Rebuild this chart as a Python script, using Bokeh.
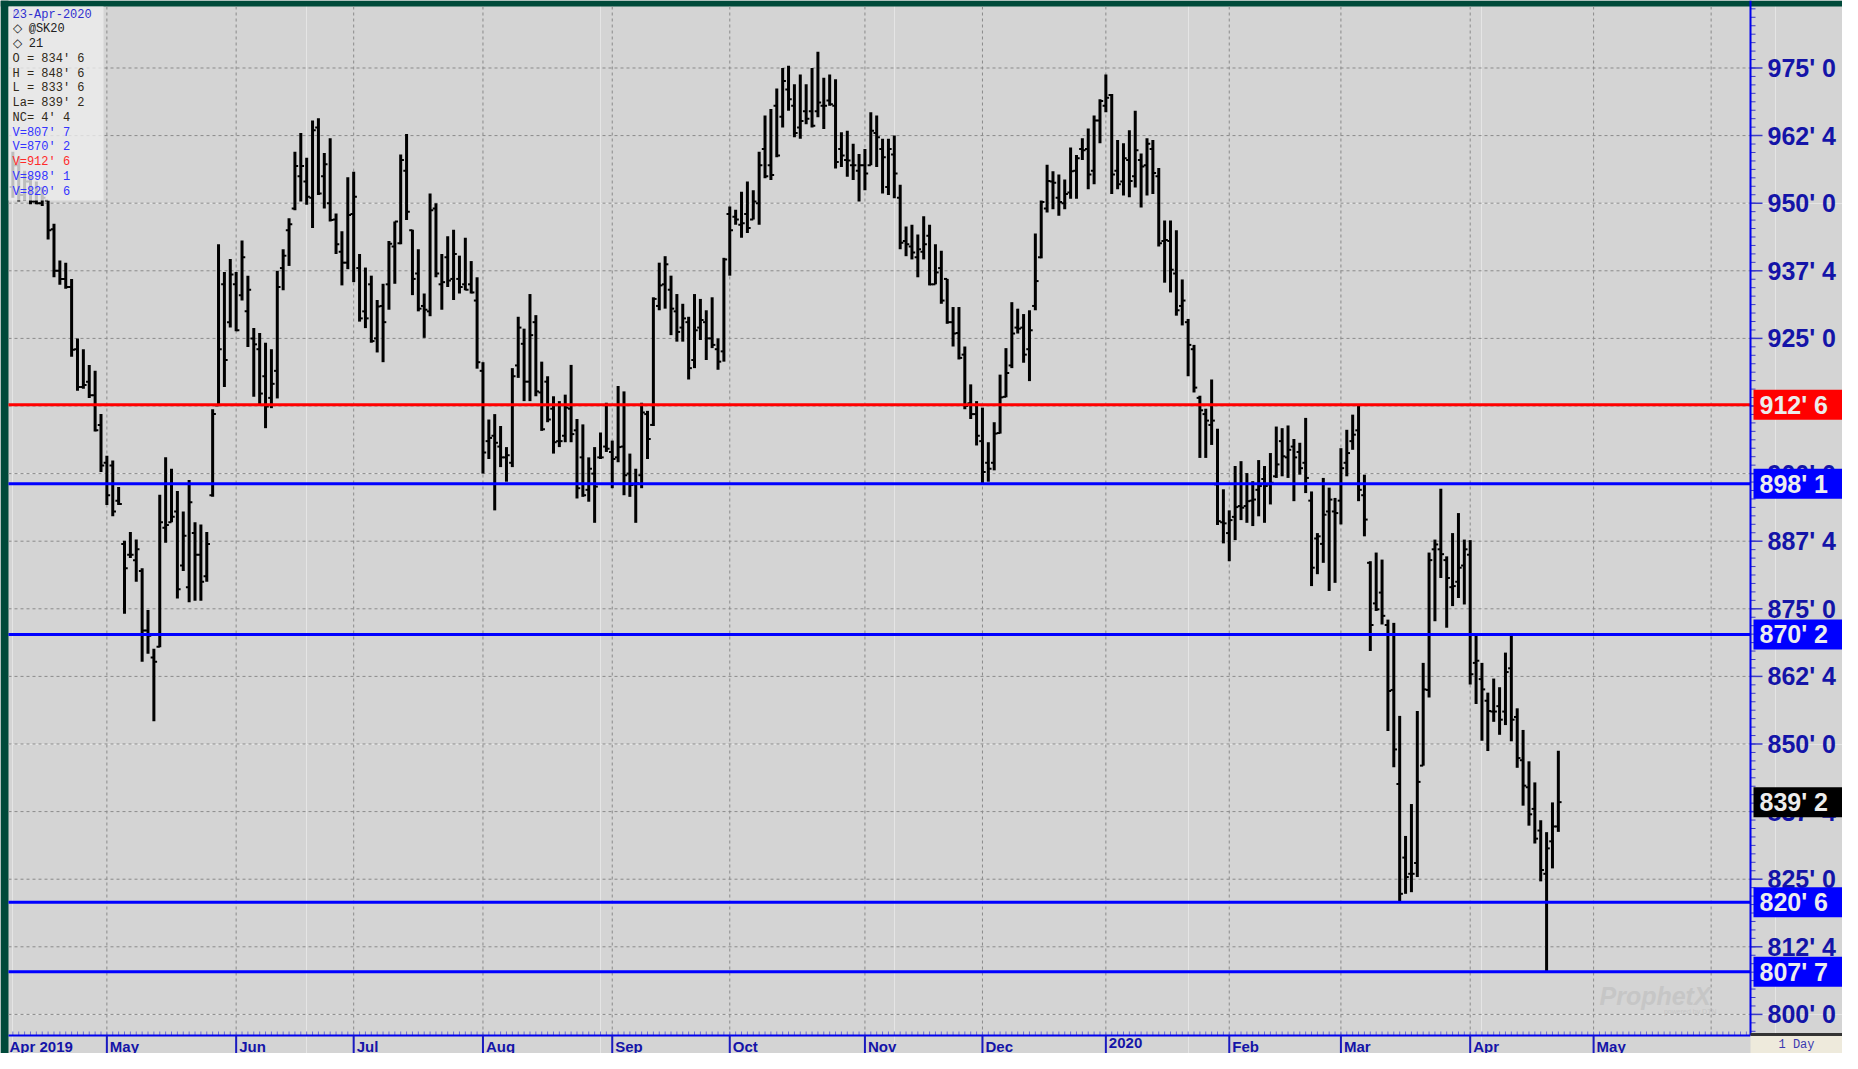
import pandas as pd
from bokeh.plotting import figure
from bokeh.models import ColumnDataSource, Range1d, Label, BoxAnnotation
from bokeh.core.properties import value
from bokeh.embed import file_html
from bokeh.resources import INLINE

# ---------------- data ----------------
first_day = "2019-04-08"
calendar_end = "2020-06-30"
holidays = ["2019-04-19", "2019-05-27", "2019-07-04", "2019-09-02", "2019-11-28",
            "2019-12-25", "2020-01-01", "2020-01-20", "2020-02-17", "2020-04-10", "2020-05-25"]

opens = [953, 957, 951.5, 954, 950.3, 950, 950.5, 945.2, 937.5, 936, 934.5, 923, 916, 917, 914.5, 909,
         902, 901.5, 895, 887, 885, 884, 882, 871, 866, 868, 890, 891, 893, 883, 879, 889, 885, 881, 896, 912.6,
         935, 928, 935, 933, 930, 925, 923, 918, 914, 919, 938, 945, 949, 955, 954, 951, 964, 955, 950, 947,
         941, 939, 948, 938, 930, 935, 925, 931, 935, 942, 942.6, 956, 945, 937, 931, 930, 949, 935, 940, 936,
         936, 935, 935, 932, 919, 906, 907, 905, 903, 902, 920, 924, 917, 928, 915, 917, 912, 906, 907, 912,
         908, 903, 897, 900, 903, 905, 904, 903, 905, 900, 898, 899.7, 911, 909, 931, 935, 934, 930, 927, 928,
         921, 927, 928, 925, 923, 922.6, 948, 947.5, 946, 948, 947, 950, 960, 957, 968, 966, 971, 968, 964, 967,
         967, 967, 968, 969, 968, 960, 958, 957, 956, 957, 957, 963, 960, 953, 959, 951, 943, 942, 940, 941,
         944, 935, 938, 936, 928, 926, 922, 913, 911, 906, 902, 902, 907.5, 914.2, 920, 927, 927, 923, 931, 940,
         949, 954, 951, 950, 952, 956, 960, 960, 956, 965.3, 968, 970, 956, 954, 958, 955, 958, 957, 960, 955,
         943, 943, 937, 931, 928, 923, 914, 911, 909, 898, 891, 889, 892, 894, 894, 895, 897, 899, 898, 899.5,
         906, 903, 905, 904, 902, 895, 888, 887, 893, 893, 895, 902, 906, 908, 896, 883.5, 876, 878, 872, 860,
         842.6, 829, 826, 828, 846, 860, 886, 886, 884, 879, 880, 883, 885, 865, 862, 858, 856, 857, 856, 864,
         855, 847, 842, 838, 834, 826, 832, 834.75]
highs = [959.5, 958.6, 956, 955, 954, 953, 950.5, 946.2, 939.4, 939, 936, 925, 923, 920.1, 919, 911,
         903.3, 902.4, 897.5, 887.6, 889.2, 887.8, 882.5, 874.8, 867.6, 896.1, 903, 900.9, 896.8, 893, 898.8, 891, 890.6, 889.2, 911.9, 942.4,
         937.3, 939.7, 937.3, 943.1, 936.6, 926.9, 926, 924.2, 923, 937.5, 941.5, 947.2, 959.5, 963, 958.4, 965.3, 965.7, 959.3, 962, 948.1,
         944.8, 954.8, 955.8, 940.6, 938.1, 936.6, 932.1, 935.1, 943, 946.6, 959, 962.8, 945.1, 941.5, 933.3, 951.8, 950, 940.6, 943.9, 945.1,
         940.3, 943.6, 939.3, 936.3, 920.6, 910, 911, 908.8, 904.9, 919.5, 929, 926.8, 933.2, 929.3, 920.7, 918, 914.3, 913.4, 914.6, 920.1,
         910.1, 909.1, 903, 904.9, 907.6, 913.1, 906.1, 916.2, 915.2, 903.7, 900.9, 913.1, 911.6, 932.6, 939, 940.2, 936.6, 933.2, 931.4, 929,
         933.2, 932.3, 930.2, 932.6, 925, 939.9, 949.4, 948.8, 952.1, 954, 952.4, 959.5, 966.2, 967.4, 971.2, 975, 975.4, 972, 973.8, 972,
         975, 978, 973.2, 973.8, 972.9, 963.1, 963.4, 961, 959.1, 960, 966.8, 966.2, 961.9, 961.9, 962.5, 953.4, 945.7, 946, 944.2, 947.6,
         946, 942.4, 941.2, 936, 930.8, 930.8, 923.5, 916.5, 913.4, 912.2, 905.8, 909.5, 918.3, 923.2, 931.7, 930.5, 929.5, 930.2, 944.4, 950.5,
         957.1, 955.9, 955.3, 954.4, 960.3, 958.9, 962, 963.8, 966.2, 969.2, 973.8, 970.2, 961.7, 961.1, 963.5, 967.1, 959.2, 962, 961.7, 956.5,
         946.8, 946.8, 945, 935.9, 928.6, 923.8, 914.4, 912, 917.4, 908.3, 897.1, 893.2, 901.4, 902.3, 900.1, 898.6, 902.5, 901.4, 903.8, 908.7,
         908.4, 908.9, 906.4, 905.7, 910.3, 896.7, 889, 899.2, 897.4, 895.5, 904.7, 908.1, 910.9, 912.75, 899.8, 883.8, 885.4, 884.1, 873, 872.4,
         855.2, 833, 838.9, 856.1, 865, 885.4, 887.8, 897.2, 884.7, 889, 892.7, 887.8, 887.7, 870.3, 865, 859.5, 862.1, 860.5, 866.9, 870.25,
         856.6, 852.6, 846.8, 842.9, 835.9, 833.7, 839.2, 848.75]
lows = [951, 950.3, 950.5, 949.8, 949.8, 949.5, 943.3, 936.3, 934.9, 934.2, 921.6, 915.3, 915.7, 914, 907.8, 900.3,
        894.2, 892.1, 894.2, 874.1, 884.4, 880, 865.2, 866.7, 854.2, 867.9, 887.2, 891, 876.9, 882, 876.2, 876.5, 876.5, 880, 895.7, 912.6,
        916, 927, 926.3, 932, 923.4, 914.2, 912.7, 908.4, 912.1, 913.9, 933.9, 938.4, 948.7, 950.3, 949.7, 945.4, 951.5, 949, 946.6, 940.6,
        934.8, 937.8, 935.4, 928.1, 926.9, 924.2, 922.4, 920.6, 930.3, 935.1, 942.4, 946.9, 933, 930, 925.1, 929.1, 936.3, 930.3, 934.5, 932.1,
        933.3, 933.9, 933.3, 919.4, 900, 902.7, 893.2, 901.2, 898.5, 901.2, 917.7, 913.4, 913.4, 914.3, 907.9, 909.5, 903.7, 904.9, 905.8, 905.8,
        895.4, 895.7, 894.8, 890.9, 902.7, 904, 897.3, 902.1, 896, 895.7, 890.9, 897.3, 902.7, 908.8, 930.2, 930.5, 925.6, 924.4, 924.4, 917.4,
        919.5, 924.7, 921, 923.2, 919.2, 920.7, 936.6, 946, 943.6, 944.5, 947, 946, 954.6, 954.3, 958.5, 964, 967.1, 962.2, 961.9, 964.6,
        964, 965.9, 963.7, 968, 956.4, 956.7, 954.9, 954.3, 950.3, 952.4, 957, 956.7, 951.8, 951.5, 950.9, 941.5, 940.2, 939.6, 936.3, 939.6,
        934.8, 935, 931.4, 927.7, 923.5, 921.1, 911.9, 910.1, 905.2, 898.125, 898.5, 900.6, 907.4, 914.1, 919.5, 925.9, 920.5, 917.1, 930.2, 939.8,
        948.3, 948.9, 947.7, 948.9, 950.8, 950.8, 958, 952.6, 953.5, 961.1, 966.8, 951.7, 952.6, 951.4, 951.1, 952.9, 949.2, 951.4, 951.7, 942,
        935.3, 933.5, 929.2, 927.4, 918, 915, 902.9, 902.9, 905.3, 890.5, 887.1, 883.8, 887.7, 891.4, 890.9, 890.3, 892.1, 890.9, 894.3, 899.2,
        899.5, 899.2, 894.9, 899.8, 896.4, 879.2, 881.4, 883.5, 878.3, 879.8, 890.6, 899.5, 904.4, 894.9, 888.4, 867.2, 874.6, 872.1, 852.4, 845.7,
        820.75, 822.3, 822.6, 825.4, 846, 858.6, 872.7, 880.7, 871.5, 875.5, 877, 875.8, 861, 857.4, 850.6, 848.7, 854.1, 851.7, 853.5, 850.5,
        845.6, 838.6, 834.9, 831.6, 824.6, 807.875, 827, 833.75]
closes = [957, 951.5, 954, 950.3, 950, 951, 945, 937.5, 936, 934.5, 922.9, 916, 916.4, 914.5, 908, 901.5,
          896, 893, 894.4, 882.5, 885, 886, 871, 870, 865.2, 891, 890.5, 892, 878.6, 888.5, 894.7, 885, 880, 887, 911, 923,
          921, 936.8, 926.5, 940, 934, 923.9, 914.8, 912.4, 916.6, 934.5, 940.3, 946.1, 956.9, 956.9, 951.2, 963.5, 951.8, 957.2, 946.9, 942.4,
          939, 947.8, 951.2, 928.7, 928.7, 924.5, 930.9, 928, 942.5, 946.6, 958, 948.4, 936, 930.5, 930.3, 948.7, 937, 935.4, 935.7, 940.6,
          934.5, 934, 933.5, 920.6, 903.9, 906.6, 905.7, 903, 903.4, 918, 927, 917, 925.6, 915.2, 908.2, 910, 905.8, 906, 912.2, 907.3,
          897.3, 896, 900.9, 897.6, 903, 904.6, 902.7, 904.9, 899.7, 897.9, 898.2, 911.3, 906.4, 932.3, 934.8, 938.7, 930.5, 926.2, 928.7, 919.5,
          926.5, 928.4, 925, 923.8, 920.7, 939.6, 945, 947, 946.3, 945.4, 950.3, 957, 955, 955.2, 958.8, 972.6, 969.2, 963, 965.2, 965.6,
          964.3, 968.6, 968, 968.3, 957.6, 958.8, 957.9, 957, 957, 955.5, 963.4, 962.2, 958.5, 960, 955.5, 942.7, 942.4, 940.9, 941.5, 942.4,
          935, 937.2, 932, 928, 925.9, 921.4, 912.5, 911, 907, 900.3, 900.9, 907.4, 914.1, 918.6, 925.9, 926.8, 922, 926.5, 935.6, 950.2,
          954.1, 953.8, 950.2, 951.7, 955.9, 958.3, 959.8, 955.3, 965.3, 968.9, 969.5, 955.3, 953.5, 958.3, 954.1, 959.8, 956.8, 961, 955.6, 942.6,
          943.2, 937.7, 930.2, 932, 923.8, 915.9, 911.7, 909.8, 909.8, 891.2, 890.8, 891.4, 893.8, 893.7, 894.9, 895.2, 897.7, 897.7, 898.3, 901.7,
          903.2, 904.4, 903, 901, 899.2, 882.6, 888.4, 892.4, 895.2, 892.7, 901, 903.8, 907.2, 897, 891.5, 872, 874.9, 873.7, 859.8, 849,
          822.3, 825.4, 826, 843, 860.1, 884, 886.9, 885.1, 880.7, 879.2, 882.6, 886, 862.9, 865.4, 860.1, 856.1, 856, 854.5, 863.3, 854.5,
          847.4, 842.3, 837, 832.5, 826.7, 830.7, 834.75, 839.25]

level_values = [807.875, 870.25, 912.75, 898.125, 820.75]
level_colors = ["#0000ff", "#0000ff", "#ff0000", "#0000ff", "#0000ff"]
level_text_colors = ["#3333ff", "#3333ff", "#ff2a2a", "#3333ff", "#3333ff"]
price_ticks = [800, 812.5, 825, 837.5, 850, 862.5, 875, 887.5, 900, 912.5, 925, 937.5, 950, 962.5, 975]
symbol = "@SK20"
chart_date = "23-Apr-2020"
session_count = "21"
interval_label = "1 Day"


# ---------------- helpers ----------------
def fmt(p):
    whole = int(p // 1)
    eighth = int(round((p - whole) * 8))
    if eighth == 8:
        whole, eighth = whole + 1, 0
    return f"{whole}' {eighth}"


days = pd.bdate_range(first_day, calendar_end)
days = days[~days.isin(pd.to_datetime(holidays))]
n = len(closes)
xs = list(range(n))

# ---------------- geometry (pixels) ----------------
W, H = 1842, 1053
PL, PR, PT, PB = 8, 1750, 6, 1035          # plot area inside the canvas
x_start, x_plot_end = -0.74, 295.7
y_top, y_plot_bot = 986.37, 796.1
px_x = (PR - PL) / (x_plot_end - x_start)
px_y = (PB - PT) / (y_top - y_plot_bot)
X0 = x_start - PL / px_x
X1 = x_plot_end + (W - PR) / px_x
Y1 = y_top + PT / px_y
Y0 = y_plot_bot - (H - PB) / px_y


def dx(pix):
    return pix / px_x


def dy(pix):
    return pix / px_y


month_starts = [i for i in range(1, len(days)) if days[i].month != days[i - 1].month]
month_in_view = [i for i in month_starts if x_start < i < x_plot_end]
labelled_months = [i for i in month_in_view if i < x_plot_end - 15]
day_ticks = [i for i in range(len(days)) if x_start <= i <= x_plot_end]

AX_BLUE = "#1414a8"
BG = "#d4d4d4"
GREEN = "#004a3a"
SANS = value("Liberation Sans")

p = figure(width=W, height=H, output_backend="svg", toolbar_location=None,
           x_range=Range1d(X0, X1), y_range=Range1d(Y0, Y1),
           x_axis_location=None, y_axis_location=None,
           min_border_left=0, min_border_right=0, min_border_top=0, min_border_bottom=0,
           background_fill_color=BG, border_fill_color=BG)
p.outline_line_color = None

# dark green frame strips (left and top)
p.quad(left=[X0, X0], right=[x_start, X1], bottom=[Y0, y_top], top=[Y1, Y1],
       fill_color=GREEN, line_color=None)

# dashed grid
p.segment(x0=[x_start] * len(price_ticks), x1=[x_plot_end] * len(price_ticks),
          y0=price_ticks, y1=price_ticks, line_color="#8a8a8a", line_width=1, line_dash="3 3")
p.segment(x0=month_in_view, x1=month_in_view, y0=[y_plot_bot] * len(month_in_view),
          y1=[y_top] * len(month_in_view), line_color="#8a8a8a", line_width=1, line_dash="3 3")

# OHLC bars
src = ColumnDataSource(dict(
    x=xs, xl=[x - 0.55 for x in xs], xr=[x + 0.55 for x in xs],
    o=opens, h=highs, l=lows, c=closes))
p.segment(x0="x", y0="l", x1="x", y1="h", source=src, line_color="black", line_width=3)
p.segment(x0="xl", y0="o", x1="x", y1="o", source=src, line_color="black", line_width=2)
p.segment(x0="x", y0="c", x1="xr", y1="c", source=src, line_color="black", line_width=2)

# level lines
p.segment(x0=[x_start] * len(level_values), x1=[x_plot_end] * len(level_values),
          y0=level_values, y1=level_values, line_color=level_colors, line_width=3)

# ---------- right price axis ----------
minor_y = [787.5 + 1.5625 * k for k in range(130) if 787.5 + 1.5625 * k < Y1]
minor_y = [v for v in minor_y if v > y_plot_bot]
p.segment(x0=[x_plot_end] * len(minor_y), x1=[x_plot_end + dx(5)] * len(minor_y),
          y0=minor_y, y1=minor_y, line_color="#3a3ac8", line_width=1)
p.segment(x0=[x_plot_end] * len(price_ticks), x1=[x_plot_end + dx(12)] * len(price_ticks),
          y0=price_ticks, y1=price_ticks, line_color="#3a3ac8", line_width=1.5)
p.segment(x0=[x_plot_end], x1=[x_plot_end], y0=[y_plot_bot], y1=[Y1],
          line_color="#0000ee", line_width=2)
p.text(x=[x_plot_end + dx(17)] * len(price_ticks), y=price_ticks,
       text=[fmt(v) for v in price_ticks], text_baseline="middle", text_align="left",
       text_font=SANS, text_font_style="bold", text_font_size="25px", text_color=AX_BLUE)

# price boxes for the level lines and the last price
box_vals = level_values + [closes[-1]]
box_cols = level_colors + ["#000000"]
p.quad(left=[x_plot_end + dx(3)] * len(box_vals), right=[X1] * len(box_vals),
       bottom=[v - dy(15) for v in box_vals], top=[v + dy(15) for v in box_vals],
       fill_color=box_cols, line_color=None)
p.text(x=[x_plot_end + dx(9)] * len(box_vals), y=box_vals, text=[fmt(v) for v in box_vals],
       text_baseline="middle", text_align="left", text_font=SANS, text_font_style="bold",
       text_font_size="25px", text_color="#ececec")

# ---------- bottom date axis ----------
p.segment(x0=day_ticks, x1=day_ticks, y0=[y_plot_bot] * len(day_ticks),
          y1=[y_plot_bot + dy(4)] * len(day_ticks), line_color="#7070d0", line_width=1)
p.segment(x0=[x_start], x1=[x_plot_end], y0=[y_plot_bot], y1=[y_plot_bot],
          line_color="#0000ee", line_width=2)
p.segment(x0=labelled_months, x1=labelled_months, y0=[Y0] * len(labelled_months),
          y1=[y_plot_bot] * len(labelled_months), line_color="#1a1ac0", line_width=2)
m_x = [x_start + dx(1)] + [i + dx(3) for i in labelled_months]
m_t = [days[0].strftime("%b %Y")] + [str(days[i].year) if days[i].month == 1 else days[i].strftime("%b")
                                     for i in labelled_months]
p.text(x=m_x, y=[y_plot_bot - dy(2)] * len(m_x), text=m_t, text_align="left", text_baseline="top",
       text_font=SANS, text_font_style="bold", text_font_size="15px", text_color=AX_BLUE)

# interval box bottom right
p.quad(left=[x_plot_end], right=[X1], bottom=[Y0], top=[y_plot_bot], fill_color="#eeeadc",
       line_color=None)
p.segment(x0=[x_plot_end], x1=[X1], y0=[y_plot_bot + dy(1)], y1=[y_plot_bot + dy(1)],
          line_color="#333333", line_width=3)
p.text(x=[(x_plot_end + X1) / 2], y=[(Y0 + y_plot_bot) / 2], text=[interval_label],
       text_align="center", text_baseline="middle", text_font=value("Liberation Mono"),
       text_font_size="12px", text_color="#3a3ab0")

# watermark
p.text(x=[x_plot_end - dx(151)], y=[y_plot_bot + dy(40)], text=["ProphetX"],
       text_align="left", text_baseline="middle", text_font=SANS,
       text_font_style="bold italic", text_font_size="25px", text_color="#c6c6c6")
p.text(x=[x_plot_end - dx(34)], y=[y_plot_bot + dy(24)], text=["powered by DTN"],
       text_align="right", text_baseline="middle", text_font=SANS,
       text_font_size="7px", text_color="#c6c6c6")

# ---------- info box top-left ----------
p.add_layout(BoxAnnotation(left=x_start, right=x_start + dx(95), top=y_top, bottom=y_top - dy(194),
                           fill_color="#ececec", fill_alpha=0.8, line_color=None))
nc = closes[-1] - closes[-2]
info = [("  " + chart_date, "#3030d0"),
        ("\u25c7 " + symbol, "#202020"),
        ("\u25c7 " + session_count, "#202020"),
        ("O = " + fmt(opens[-1]), "#302818"),
        ("H = " + fmt(highs[-1]), "#302818"),
        ("L = " + fmt(lows[-1]), "#302818"),
        ("La= " + fmt(closes[-1]), "#302818"),
        ("NC= " + fmt(nc), "#302818")]
info += [("V=" + fmt(v), c) for v, c in zip(level_values, level_text_colors)]
for k, (txt, col) in enumerate(info):
    p.add_layout(Label(x=x_start, y=y_top, x_offset=4, y_offset=-(8 + 14.75 * k), text=txt,
                       text_baseline="middle", text_font="Liberation Mono",
                       text_font_size="12px", text_color=col))
# magnifier mark before the date
p.scatter(x=[x_start + dx(8)], y=[y_top - dy(8)], size=6, marker="circle", fill_color=None,
          line_color="#3030d0", line_width=1.2)

open("out.html", "w").write(file_html(p, INLINE))
